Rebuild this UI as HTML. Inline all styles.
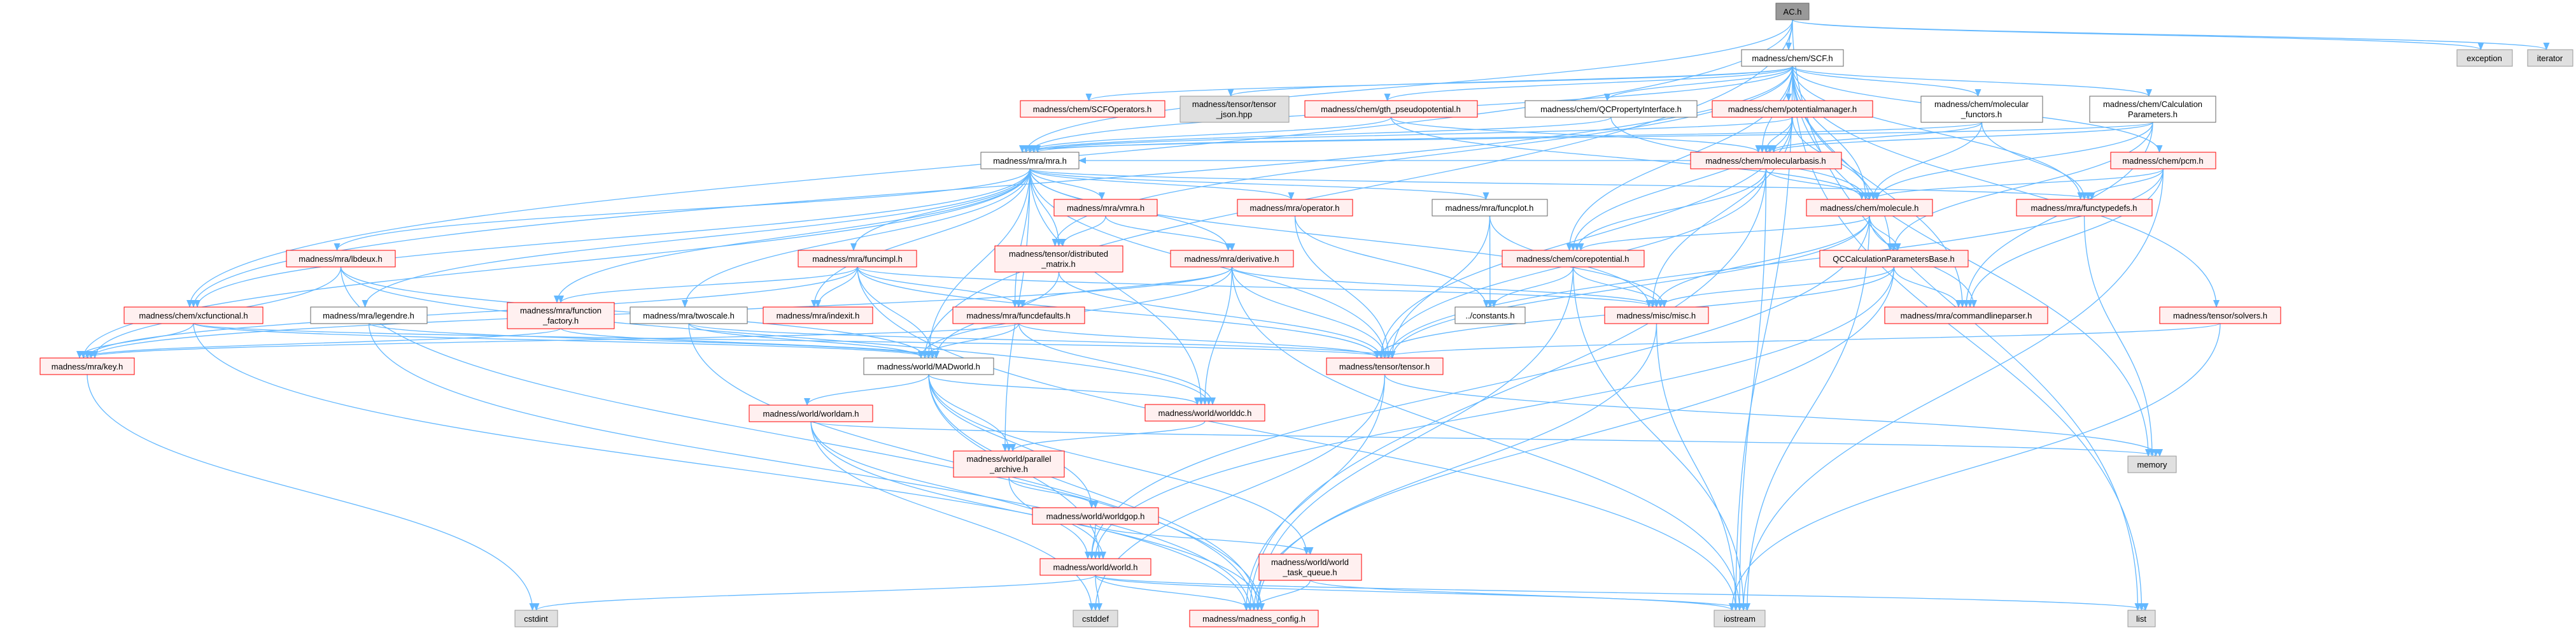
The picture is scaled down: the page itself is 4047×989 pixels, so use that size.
<!DOCTYPE html>
<html><head><meta charset="utf-8"><style>
html,body{margin:0;padding:0;background:#fff;}
svg{display:block;}
text{font-family:"Liberation Sans",sans-serif;font-size:13px;fill:#000;}
</style></head><body>
<svg id="g" width="4047" height="989" viewBox="0 0 4047 989" xmlns="http://www.w3.org/2000/svg">
<defs><marker id="ah" markerWidth="12" markerHeight="10" refX="11" refY="5" orient="auto" markerUnits="userSpaceOnUse"><path d="M0,0 L12,5 L0,10 z" fill="#63b8ff"/></marker></defs>
<g id="edges" fill="none" stroke="#63b8ff" stroke-width="1.3"></g>
<g id="nodes">
<rect x="2790" y="5" width="52" height="26" fill="#999" stroke="#666"/><text x="2816" y="23" text-anchor="middle">AC.h</text>
<rect x="2736" y="78" width="160" height="26" fill="#fff" stroke="#666"/><text x="2816" y="96" text-anchor="middle">madness/chem/SCF.h</text>
<rect x="3860" y="78" width="87" height="26" fill="#e0e0e0" stroke="#999"/><text x="3903" y="96" text-anchor="middle">exception</text>
<rect x="3971" y="78" width="71" height="26" fill="#e0e0e0" stroke="#999"/><text x="4006" y="96" text-anchor="middle">iterator</text>
<rect x="1603" y="158" width="227" height="26" fill="#fff0f0" stroke="#f00"/><text x="1716" y="176" text-anchor="middle">madness/chem/SCFOperators.h</text>
<rect x="1854" y="151" width="171" height="41" fill="#e0e0e0" stroke="#999"/><text x="1939" y="168" text-anchor="middle">madness/tensor/tensor</text><text x="1939" y="184" text-anchor="middle">_json.hpp</text>
<rect x="2050" y="158" width="271" height="26" fill="#fff0f0" stroke="#f00"/><text x="2185" y="176" text-anchor="middle">madness/chem/gth_pseudopotential.h</text>
<rect x="2396" y="158" width="270" height="26" fill="#fff" stroke="#666"/><text x="2531" y="176" text-anchor="middle">madness/chem/QCPropertyInterface.h</text>
<rect x="2690" y="158" width="252" height="26" fill="#fff0f0" stroke="#f00"/><text x="2816" y="176" text-anchor="middle">madness/chem/potentialmanager.h</text>
<rect x="3018" y="151" width="191" height="41" fill="#fff" stroke="#666"/><text x="3113" y="168" text-anchor="middle">madness/chem/molecular</text><text x="3113" y="184" text-anchor="middle">_functors.h</text>
<rect x="3283" y="151" width="198" height="41" fill="#fff" stroke="#666"/><text x="3382" y="168" text-anchor="middle">madness/chem/Calculation</text><text x="3382" y="184" text-anchor="middle">Parameters.h</text>
<rect x="1541" y="239" width="154" height="26" fill="#fff" stroke="#666"/><text x="1618" y="257" text-anchor="middle">madness/mra/mra.h</text>
<rect x="2656" y="239" width="237" height="26" fill="#fff0f0" stroke="#f00"/><text x="2774" y="257" text-anchor="middle">madness/chem/molecularbasis.h</text>
<rect x="3316" y="239" width="165" height="26" fill="#fff0f0" stroke="#f00"/><text x="3398" y="257" text-anchor="middle">madness/chem/pcm.h</text>
<rect x="1656" y="313" width="162" height="26" fill="#fff0f0" stroke="#f00"/><text x="1737" y="331" text-anchor="middle">madness/mra/vmra.h</text>
<rect x="1944" y="313" width="181" height="26" fill="#fff0f0" stroke="#f00"/><text x="2034" y="331" text-anchor="middle">madness/mra/operator.h</text>
<rect x="2250" y="313" width="181" height="26" fill="#fff" stroke="#666"/><text x="2340" y="331" text-anchor="middle">madness/mra/funcplot.h</text>
<rect x="2838" y="313" width="198" height="26" fill="#fff0f0" stroke="#f00"/><text x="2937" y="331" text-anchor="middle">madness/chem/molecule.h</text>
<rect x="3168" y="313" width="213" height="26" fill="#fff0f0" stroke="#f00"/><text x="3274" y="331" text-anchor="middle">madness/mra/functypedefs.h</text>
<rect x="450" y="393" width="171" height="26" fill="#fff0f0" stroke="#f00"/><text x="535" y="411" text-anchor="middle">madness/mra/lbdeux.h</text>
<rect x="1254" y="393" width="186" height="26" fill="#fff0f0" stroke="#f00"/><text x="1347" y="411" text-anchor="middle">madness/mra/funcimpl.h</text>
<rect x="1563" y="386" width="201" height="41" fill="#fff0f0" stroke="#f00"/><text x="1663" y="403" text-anchor="middle">madness/tensor/distributed</text><text x="1663" y="419" text-anchor="middle">_matrix.h</text>
<rect x="1839" y="393" width="193" height="26" fill="#fff0f0" stroke="#f00"/><text x="1935" y="411" text-anchor="middle">madness/mra/derivative.h</text>
<rect x="2360" y="393" width="223" height="26" fill="#fff0f0" stroke="#f00"/><text x="2471" y="411" text-anchor="middle">madness/chem/corepotential.h</text>
<rect x="2859" y="393" width="233" height="26" fill="#fff0f0" stroke="#f00"/><text x="2975" y="411" text-anchor="middle">QCCalculationParametersBase.h</text>
<rect x="195" y="482" width="218" height="26" fill="#fff0f0" stroke="#f00"/><text x="304" y="500" text-anchor="middle">madness/chem/xcfunctional.h</text>
<rect x="488" y="482" width="183" height="26" fill="#fff" stroke="#666"/><text x="579" y="500" text-anchor="middle">madness/mra/legendre.h</text>
<rect x="797" y="475" width="168" height="41" fill="#fff0f0" stroke="#f00"/><text x="881" y="492" text-anchor="middle">madness/mra/function</text><text x="881" y="508" text-anchor="middle">_factory.h</text>
<rect x="990" y="482" width="184" height="26" fill="#fff" stroke="#666"/><text x="1082" y="500" text-anchor="middle">madness/mra/twoscale.h</text>
<rect x="1199" y="482" width="172" height="26" fill="#fff0f0" stroke="#f00"/><text x="1285" y="500" text-anchor="middle">madness/mra/indexit.h</text>
<rect x="1497" y="482" width="207" height="26" fill="#fff0f0" stroke="#f00"/><text x="1600" y="500" text-anchor="middle">madness/mra/funcdefaults.h</text>
<rect x="2286" y="482" width="110" height="26" fill="#fff" stroke="#666"/><text x="2341" y="500" text-anchor="middle">../constants.h</text>
<rect x="2521" y="482" width="163" height="26" fill="#fff0f0" stroke="#f00"/><text x="2602" y="500" text-anchor="middle">madness/misc/misc.h</text>
<rect x="2961" y="482" width="256" height="26" fill="#fff0f0" stroke="#f00"/><text x="3089" y="500" text-anchor="middle">madness/mra/commandlineparser.h</text>
<rect x="3393" y="482" width="190" height="26" fill="#fff0f0" stroke="#f00"/><text x="3488" y="500" text-anchor="middle">madness/tensor/solvers.h</text>
<rect x="63" y="562" width="148" height="26" fill="#fff0f0" stroke="#f00"/><text x="137" y="580" text-anchor="middle">madness/mra/key.h</text>
<rect x="1357" y="562" width="204" height="26" fill="#fff" stroke="#666"/><text x="1459" y="580" text-anchor="middle">madness/world/MADworld.h</text>
<rect x="2084" y="562" width="183" height="26" fill="#fff0f0" stroke="#f00"/><text x="2175" y="580" text-anchor="middle">madness/tensor/tensor.h</text>
<rect x="1177" y="636" width="194" height="26" fill="#fff0f0" stroke="#f00"/><text x="1274" y="654" text-anchor="middle">madness/world/worldam.h</text>
<rect x="1799" y="635" width="188" height="26" fill="#fff0f0" stroke="#f00"/><text x="1893" y="653" text-anchor="middle">madness/world/worlddc.h</text>
<rect x="1498" y="708" width="174" height="41" fill="#fff0f0" stroke="#f00"/><text x="1585" y="725" text-anchor="middle">madness/world/parallel</text><text x="1585" y="741" text-anchor="middle">_archive.h</text>
<rect x="3343" y="716" width="76" height="26" fill="#e0e0e0" stroke="#999"/><text x="3381" y="734" text-anchor="middle">memory</text>
<rect x="1622" y="797" width="198" height="26" fill="#fff0f0" stroke="#f00"/><text x="1721" y="815" text-anchor="middle">madness/world/worldgop.h</text>
<rect x="1634" y="877" width="174" height="26" fill="#fff0f0" stroke="#f00"/><text x="1721" y="895" text-anchor="middle">madness/world/world.h</text>
<rect x="1978" y="870" width="161" height="41" fill="#fff0f0" stroke="#f00"/><text x="2058" y="887" text-anchor="middle">madness/world/world</text><text x="2058" y="903" text-anchor="middle">_task_queue.h</text>
<rect x="809" y="958" width="67" height="26" fill="#e0e0e0" stroke="#999"/><text x="842" y="976" text-anchor="middle">cstdint</text>
<rect x="1686" y="958" width="70" height="26" fill="#e0e0e0" stroke="#999"/><text x="1721" y="976" text-anchor="middle">cstddef</text>
<rect x="1869" y="958" width="202" height="26" fill="#fff0f0" stroke="#f00"/><text x="1970" y="976" text-anchor="middle">madness/madness_config.h</text>
<rect x="2693" y="958" width="80" height="26" fill="#e0e0e0" stroke="#999"/><text x="2733" y="976" text-anchor="middle">iostream</text>
<rect x="3343" y="958" width="43" height="26" fill="#e0e0e0" stroke="#999"/><text x="3364" y="976" text-anchor="middle">list</text>
</g>
</svg>
<script>
const N={AC:[2790,2842,5,31],SCF:[2736,2896,78,104],exc:[3860,3947,78,104],it:[3971,4042,78,104],
SCFO:[1603,1830,158,184],tj:[1854,2025,151,192],gth:[2050,2321,158,184],QCP:[2396,2666,158,184],pm:[2690,2942,158,184],
mf:[3018,3209,151,192],cp:[3283,3481,151,192],mra:[1541,1695,239,265],mb:[2656,2893,239,265],pcm:[3316,3481,239,265],
vmra:[1656,1818,313,339],op:[1944,2125,313,339],fp:[2250,2431,313,339],mol:[2838,3036,313,339],ft:[3168,3381,313,339],
lb:[450,621,393,419],fi:[1254,1440,393,419],dm:[1563,1764,386,427],der:[1839,2032,393,419],cpot:[2360,2583,393,419],qcb:[2859,3092,393,419],
xc:[195,413,482,507],leg:[488,671,482,507],ff:[797,965,475,515],ts:[990,1174,482,507],ix:[1199,1371,482,507],fd:[1497,1704,482,507],
con:[2286,2396,482,507],misc:[2521,2684,482,507],cl:[2961,3217,482,507],sol:[3393,3583,482,507],
key:[63,211,562,588],MW:[1357,1561,562,588],ten:[2084,2267,562,588],wam:[1177,1371,636,661],wdc:[1799,1987,635,661],
pa:[1498,1672,708,749],mem:[3343,3419,716,742],gop:[1622,1820,797,822],w:[1634,1808,877,903],tq:[1978,2139,870,910],
cint:[809,876,958,984],cdef:[1686,1756,958,984],cfg:[1869,2071,958,984],io:[2693,2773,958,984],list:[3343,3386,958,984]};
const E=`AC SCF,AC mra,AC xc,AC exc,AC it,AC list,AC MW,
SCF pm,SCF mf,SCF cp,SCF mb,SCF pcm,SCF SCFO,SCF tj,SCF gth,SCF QCP,SCF mra,SCF mol,SCF ft,SCF cpot,SCF dm,SCF xc,SCF cl,SCF sol,SCF mem,SCF io,SCF list,SCF qcb,
pm mb,pm mol,pm mra,pm cpot,pm ten,pm misc,mf mb,mf mol,mf ft,mf mra,cp mb,cp mol,cp qcb,cp cl,cp mra,
gth mra,gth mb,gth mol,QCP mra,QCP mol,mb mol,mb cpot,mb ten,mb io,mb cfg,mb mra,
pcm mol,pcm ft,pcm cl,pcm io,pcm ten,mol cpot,mol qcb,mol misc,mol ten,mol cl,mol io,mol w,
qcb cl,qcb misc,qcb cfg,qcb w,qcb ten,sol ten,sol io,ft mem,
mra vmra,mra op,mra fp,mra fi,mra dm,mra der,mra lb,mra leg,mra ff,mra ts,mra ix,mra fd,mra key,mra MW,mra ten,mra wdc,mra misc,mra ft,mra xc,mra pa,
vmra dm,vmra der,op con,op ten,fp con,fp misc,fp ten,
fi ff,fi fd,fi key,fi MW,fi ten,fi ix,fi misc,fi io,dm MW,dm ten,
der fd,der MW,der ten,der key,der misc,der wdc,der io,cpot con,cpot misc,cpot io,cpot cfg,
lb key,lb MW,lb wdc,lb cfg,xc key,xc MW,xc ten,xc cfg,leg MW,leg cfg,ff key,ff MW,ts ten,ts MW,ts cfg,
fd MW,fd ten,fd wdc,fd key,key cint,
MW wam,MW wdc,MW pa,MW gop,MW w,MW tq,MW cfg,wam w,wam mem,wam cfg,wam cdef,
ten cfg,ten cdef,ten mem,wdc pa,pa gop,pa w,gop w,gop tq,w cdef,w cfg,w io,w list,w cint,tq cfg,tq io,misc io,misc cfg`;
const g=document.getElementById('edges');let cnt={};
E.replace(/\s/g,' ').split(',').forEach(s=>{const [a,b]=s.trim().split(/ +/);const A=N[a],B=N[b];if(!A||!B)return;
let sx=(A[0]+A[1])/2,sy=A[3],tx=(B[0]+B[1])/2,ty=B[2];
cnt[b]=(cnt[b]||0)+1;tx+=((cnt[b]%5)-2)*6;
let d;
if(ty>sy+10){let m=(ty-sy)/2;d=`M${sx},${sy} C${sx},${sy+m} ${tx},${ty-m} ${tx},${ty}`;}
else{ // side connection
 let cy1=(A[2]+A[3])/2,cy2=(B[2]+B[3])/2;
 if(B[0]>A[1]){sx=A[1];tx=B[0];}else{sx=A[0];tx=B[1];}
 let m=(tx-sx)/2;d=`M${sx},${cy1} C${sx+m},${cy1} ${tx-m},${cy2} ${tx},${cy2}`;}
const p=document.createElementNS('http://www.w3.org/2000/svg','path');p.setAttribute('d',d);p.setAttribute('marker-end','url(#ah)');g.appendChild(p);});
</script>
</body></html>
